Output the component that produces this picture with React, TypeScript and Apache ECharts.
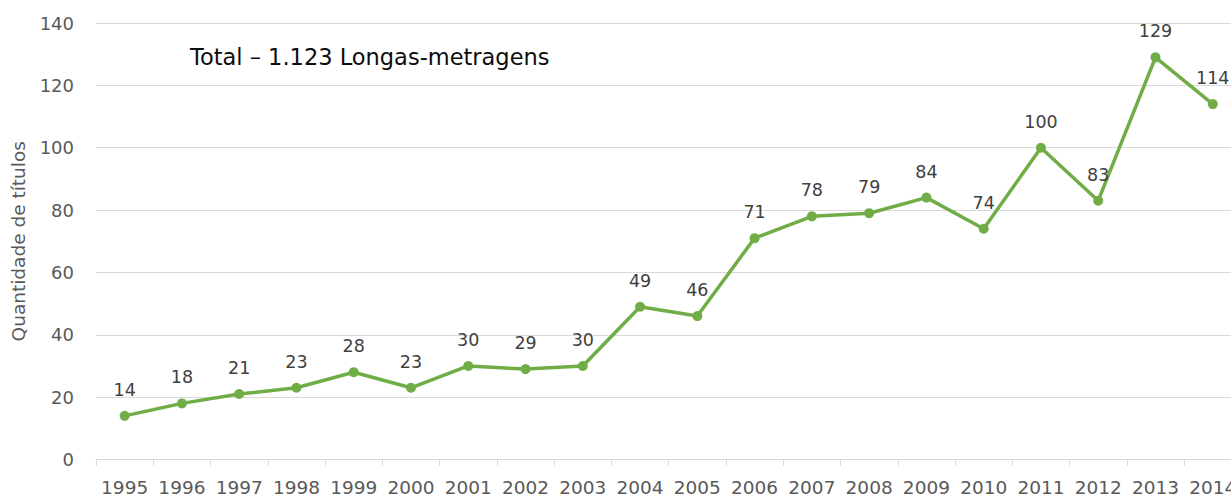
import React, { useEffect, useRef } from "react";
import * as echarts from "echarts";

const years = ["1995","1996","1997","1998","1999","2000","2001","2002","2003","2004","2005","2006","2007","2008","2009","2010","2011","2012","2013","2014"];
const values = [14,18,21,23,28,23,30,29,30,49,46,71,78,79,84,74,100,83,129,114];
const titleText = "Total – 1.123 Longas-metragens";
const yAxisName = "Quantidade de títulos";

export default function App() {
  const ref = useRef<HTMLDivElement>(null);
  useEffect(() => {
    if (!ref.current) return;
    const chart = echarts.init(ref.current, undefined, { renderer: "svg" });
    const font = "'DejaVu Sans', sans-serif";
    chart.setOption({
      animation: false,
      backgroundColor: "#ffffff",
      title: {
        text: titleText,
        left: 185,
        top: 40,
        textStyle: { fontFamily: font, fontSize: 22.5, fontWeight: "normal", color: "#0d0d0d" },
      },
      grid: { left: 96, right: 18.6, top: 23, bottom: 38.5, containLabel: false, outerBoundsMode: "none" },
      xAxis: {
        type: "category",
        data: years,
        boundaryGap: true,
        axisLine: { show: true, lineStyle: { color: "#d9d9d9", width: 1 } },
        axisTick: { show: true, length: 6, lineStyle: { color: "#d9d9d9" } },
        axisLabel: { color: "#595959", fontFamily: font, fontSize: 18.5, margin: 18, interval: 0 },
      },
      yAxis: {
        type: "value",
        min: 0,
        max: 140,
        interval: 20,
        name: yAxisName,
        nameLocation: "middle",
        nameGap: 68,
        nameRotate: 90,
        nameTextStyle: { color: "#595959", fontFamily: font, fontSize: 18.5 },
        axisLine: { show: false },
        axisTick: { show: false },
        axisLabel: { color: "#595959", fontFamily: font, fontSize: 18, margin: 22 },
        splitLine: { lineStyle: { color: "#d9d9d9", width: 1 } },
      },
      series: [
        {
          type: "line",
          data: values,
          symbol: "circle",
          symbolSize: 10,
          lineStyle: { color: "#70ad47", width: 3.5 },
          itemStyle: { color: "#70ad47" },
          label: {
            show: true,
            position: "top",
            distance: 12,
            color: "#404040",
            fontFamily: font,
            fontSize: 17.5,
          },
        },
      ],
    });
    return () => chart.dispose();
  }, []);
  return (
    <div style={{ position: "fixed", left: 0, top: 0, width: 1231, height: 498, overflow: "hidden", background: "#fff" }}>
      <div ref={ref} style={{ width: 1260, height: 498 }} />
    </div>
  );
}
